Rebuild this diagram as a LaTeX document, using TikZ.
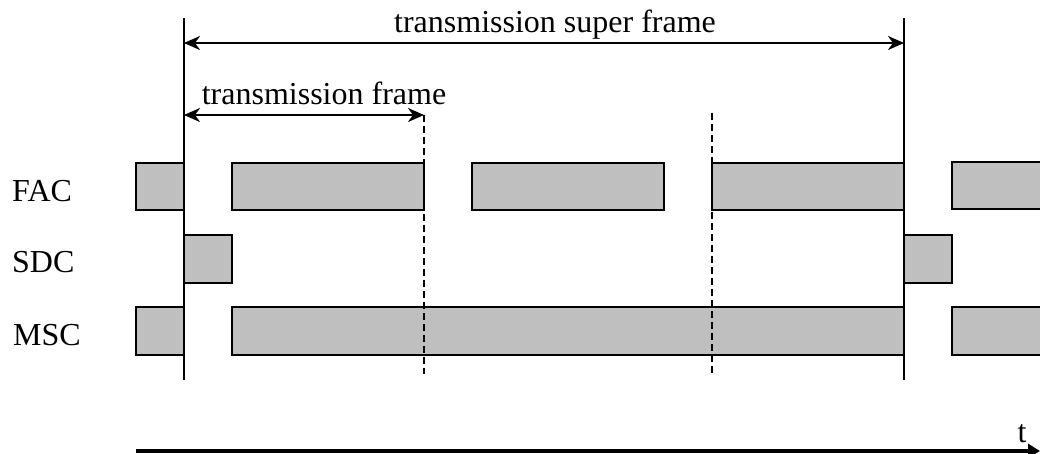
\documentclass[tikz,border=0pt]{standalone}
\usepackage{fontspec}
\setmainfont{Liberation Serif}
\usetikzlibrary{arrows.meta}
\begin{document}
\begin{tikzpicture}[x=1pt,y=-1pt,
  bar/.style={draw=black,line width=2.6pt,fill=black!25},
  solidline/.style={line width=2.2pt},
  dashline/.style={line width=2.4pt,dash pattern=on 7pt off 4pt},
  dimarrow/.style={line width=2.2pt,{Stealth[length=16pt,width=14pt,inset=5pt]}-{Stealth[length=16pt,width=14pt,inset=5pt]}},
  lbl/.style={inner sep=0pt,font=\fontsize{32}{36}\selectfont}]
\useasboundingbox (0,0) rectangle (1040,454);
\clip (0,0) rectangle (1040,454);
% bars FAC
\draw[bar] (136,163) rectangle (184,210);
\draw[bar] (232,163) rectangle (424,210);
\draw[bar] (472,163) rectangle (664,210);
\draw[bar] (712,163) rectangle (904,210);
\draw[bar] (952,162) rectangle (1060,209);
% SDC
\draw[bar] (184,235) rectangle (232,283);
\draw[bar] (904,235) rectangle (952,283);
% MSC
\draw[bar] (136,307) rectangle (184,355);
\draw[bar] (232,307) rectangle (904,355);
\draw[bar] (952,307) rectangle (1060,355);
% vertical lines
\coordinate (v1t) at (184,18); \coordinate (v1b) at (184,380);
\coordinate (v2t) at (904,18); \coordinate (v2b) at (904,380);
\coordinate (d1t) at (424,115); \coordinate (d1b) at (424,374);
\coordinate (d2t) at (712,113); \coordinate (d2b) at (712,374);
\draw[solidline] (v1t) -- (v1b);
\draw[solidline] (v2t) -- (v2b);
\draw[dashline] (d1t) -- (d1b);
\draw[dashline] (d2t) -- (d2b);
% dimension arrows
\coordinate (sa) at (184,43); \coordinate (sb) at (904,43);
\coordinate (fa) at (184,115); \coordinate (fb) at (424,115);
\draw[dimarrow] (sa) -- (sb);
\draw[dimarrow] (fa) -- (fb);
\node[lbl,anchor=base] (sf) at (555,33) {transmission super frame};
\node[lbl,anchor=base] (tf) at (324,105) {transmission frame};
% row labels
\node[lbl,anchor=base west] (fac) at (12,202) {FAC};
\node[lbl,anchor=base west] (sdc) at (12,272) {SDC};
\node[lbl,anchor=base west] (msc) at (13,345) {MSC};
% time axis
\coordinate (ta) at (136,451); \coordinate (tb) at (1040,451);
\draw[line width=4pt,-{Triangle[length=12pt,width=14pt]}] (ta) -- (tb);
\node[lbl,anchor=base] (t) at (1022,442) {t};
\end{tikzpicture}
\end{document}
